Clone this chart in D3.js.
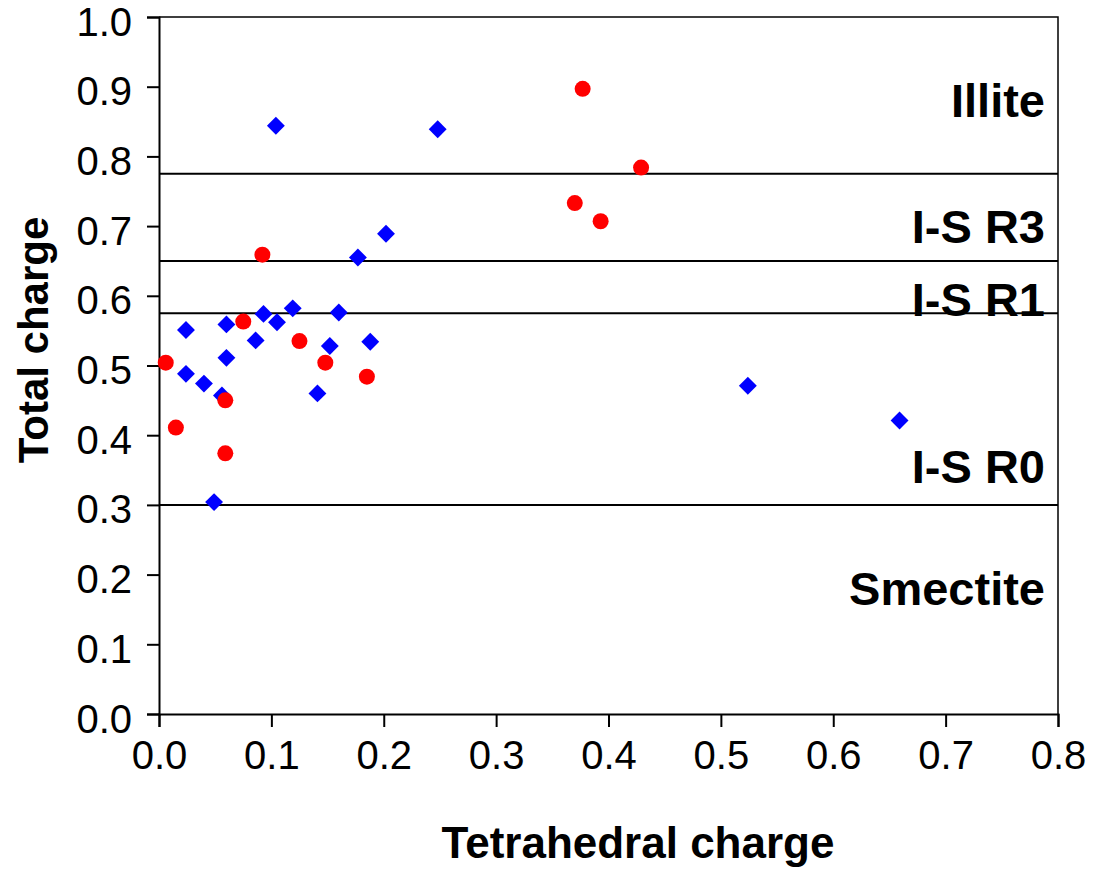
<!DOCTYPE html>
<html>
<head>
<meta charset="utf-8">
<script src="https://cdn.jsdelivr.net/npm/d3@7"></script>
<style>
  html, body { margin: 0; padding: 0; background: #fff; }
  svg { display: block; font-family: "Liberation Sans", Arial, sans-serif; }
</style>
</head>
<body>
<svg id="chart" width="1095" height="869"></svg>
<script>
// Tetrahedral charge (x) vs total charge (y), two sample groups
const blueTetra = [0.104, 0.248, 0.202, 0.177, 0.119, 0.093, 0.160, 0.105, 0.060, 0.024, 0.086,
                   0.188, 0.152, 0.060, 0.024, 0.040, 0.056, 0.141, 0.049, 0.524, 0.659];
const blueTotal = [0.844, 0.839, 0.689, 0.655, 0.582, 0.574, 0.576, 0.562, 0.559, 0.551, 0.536,
                   0.534, 0.528, 0.511, 0.488, 0.474, 0.457, 0.460, 0.304, 0.471, 0.421];

const redTetra = [0.092, 0.075, 0.125, 0.006, 0.148, 0.185, 0.059, 0.015, 0.059, 0.377, 0.429, 0.370, 0.393];
const redTotal = [0.659, 0.563, 0.535, 0.504, 0.504, 0.484, 0.450, 0.411, 0.374, 0.897, 0.784, 0.733, 0.707];

// Boundaries between clay mineral zones (total charge)
const zoneBounds = [0.775, 0.65, 0.575, 0.3];
const zoneNames = ["Illite", "I-S R3", "I-S R1", "I-S R0", "Smectite"];

const xTicks = [0, 0.1, 0.2, 0.3, 0.4, 0.5, 0.6, 0.7, 0.8];
const yTicks = [0, 0.1, 0.2, 0.3, 0.4, 0.5, 0.6, 0.7, 0.8, 0.9, 1.0];

const svg = d3.select("#chart");
const plot = { left: 159, right: 1058, top: 17, bottom: 714 };

const x = d3.scaleLinear().domain([0, 0.8]).range([plot.left, plot.right]);
const y = d3.scaleLinear().domain([0, 1.0]).range([plot.bottom, plot.top]);

// Frame (top and right edges)
svg.append("path")
  .attr("d", `M${plot.left},${plot.top}H${plot.right}V${plot.bottom}`)
  .attr("fill", "none").attr("stroke", "#000").attr("stroke-width", 1.5);

// Zone boundary lines
svg.append("g").selectAll("line").data(zoneBounds).join("line")
  .attr("x1", plot.left).attr("x2", plot.right)
  .attr("y1", d => y(d)).attr("y2", d => y(d))
  .attr("stroke", "#000").attr("stroke-width", 2);

// Axes
const fmt = d3.format(".1f");
const xAxis = svg.append("g")
  .attr("transform", `translate(0,${plot.bottom})`)
  .call(d3.axisBottom(x).tickValues(xTicks).tickFormat(fmt).tickSize(13).tickPadding(14));
const yAxis = svg.append("g")
  .attr("transform", `translate(${plot.left},0)`)
  .call(d3.axisLeft(y).tickValues(yTicks).tickFormat(fmt).tickSize(12).tickPadding(15));

[xAxis, yAxis].forEach(g => {
  g.select(".domain").attr("stroke", "#000").attr("stroke-width", 2);
  g.selectAll(".tick line").attr("stroke", "#000").attr("stroke-width", 2);
  g.selectAll(".tick text")
    .attr("fill", "#000")
    .style("font-family", "'Liberation Sans', Arial, sans-serif")
    .style("font-size", "40px");
});
yAxis.selectAll(".tick text").attr("dy", "0.45em");
xAxis.selectAll(".tick text").attr("dy", "0.71em");

// Zone labels
const labelBaselines = [117, 243, 316, 483, 605];
svg.append("g").selectAll("text").data(zoneNames).join("text")
  .attr("x", 1045)
  .attr("y", (d, i) => labelBaselines[i])
  .attr("text-anchor", "end")
  .style("font-size", "47px")
  .style("font-weight", "bold")
  .text(d => d);

// Data points: blue diamonds beneath red circles
const blueData = blueTetra.map((v, i) => [v, blueTotal[i]]);
const redData = redTetra.map((v, i) => [v, redTotal[i]]);

svg.append("g").selectAll("path").data(blueData).join("path")
  .attr("d", d3.symbol(d3.symbolSquare, 160))
  .attr("transform", d => `translate(${x(d[0])},${y(d[1])}) rotate(45)`)
  .attr("fill", "#0000ff");

svg.append("g").selectAll("circle").data(redData).join("circle")
  .attr("cx", d => x(d[0]))
  .attr("cy", d => y(d[1]))
  .attr("r", 8)
  .attr("fill", "#ff0000");

// Axis titles
svg.append("text")
  .attr("x", 638).attr("y", 858)
  .attr("text-anchor", "middle")
  .style("font-size", "44px").style("font-weight", "bold")
  .text("Tetrahedral charge");

svg.append("text")
  .attr("transform", "translate(48,340) rotate(-90)")
  .attr("text-anchor", "middle")
  .style("font-size", "42px").style("font-weight", "bold")
  .text("Total charge");
</script>
</body>
</html>
